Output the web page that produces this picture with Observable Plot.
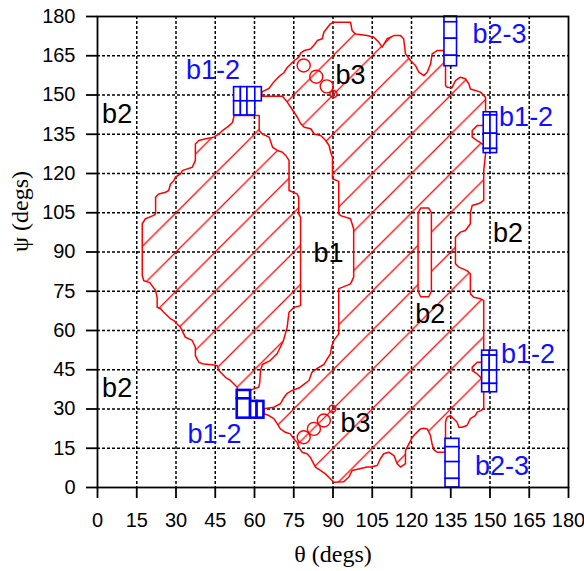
<!DOCTYPE html>
<html>
<head>
<meta charset="utf-8">
<script src="https://cdn.jsdelivr.net/npm/d3@7"></script>
<script src="https://cdn.jsdelivr.net/npm/@observablehq/plot@0.6"></script>
<style>
  html, body { margin: 0; padding: 0; background: white; }
</style>
</head>
<body>
<div id="chart"></div>
<script>
// ---- data (degrees) ----
const ticks = [0, 15, 30, 45, 60, 75, 90, 105, 120, 135, 150, 165, 180];

// left lobe outline [theta, psi]
const leftLobe = [
  [52.2,142.2],[61.8,142.2],[61.8,136.4],[63,135.1],[65.6,133.9],[66.9,130],[68.8,128.8],[70.7,128.1],
  [71.9,126.9],[73.2,125],[73.2,113.5],[76.3,112.2],[76.9,110.9],[76.9,104.6],[77.6,103.3],[77.6,69.5],
  [75,68.8],[73.2,67],[72.8,64],[72.5,61.3],[71,56],[68.7,51.2],[66,48.5],[63,47],[62.3,44.7],[62,40],
  [61.6,38.3],[59.7,37.7],[58.5,37.1],[53.4,37.1],[53.4,38.3],[50.8,40.9],[48.9,42.1],[46.4,44.7],
  [45.7,46.6],[44.4,46.8],[40,47.3],[38.7,47.9],[37.4,50.4],[37.4,53.6],[36.2,56.2],[33.6,57.4],
  [31.7,61.3],[30.4,62.5],[29.2,63.8],[27.9,64.5],[25.3,67],[24.1,68.3],[22.8,68.9],[22.8,72.5],
  [22.2,75.3],[20,78.3],[17.7,79],[17.1,81],[17.1,100.8],[18.3,102.7],[21.5,104],[22.2,104.6],
  [22.2,110.9],[23.4,112.2],[26,112.8],[27.2,113.5],[27.9,116],[29.2,117.3],[29.8,118.6],[31.7,119.9],
  [32.4,121.1],[36.2,122.4],[36.8,123.7],[37.4,125],[37.4,131.3],[38.7,132.6],[41,133.2],[44.4,133.9],
  [46.4,135.1],[48,136.6],[50,138],[51.6,139.5],[52.2,142.2]
];

// right (diagonal) region outline [theta, psi]
const rightRegion = [
  [62.8,151.2],[65.5,152.5],[67.4,155],[69.3,157],[71.2,158.5],[72.5,160.5],[73.5,161.5],[75,163],
  [77,164.5],[77.6,166],[79,167],[81.4,167.6],[82.7,169],[84,170.8],[85.9,171.5],[86.5,174],[89,177.2],
  [90.3,177.8],[96.7,177.8],[97.3,174.6],[98.6,173.3],[103,172.7],[105.6,172.1],[107.5,170.2],
  [108.8,168.3],[110.7,171.5],[113.3,172.7],[115.8,172.7],[117,171.5],[117.7,165.7],[119.6,163.2],
  [121.5,161.3],[122.8,158.7],[124.7,157.4],[126,158.7],[127.3,161.9],[127.9,165.7],[129.8,167],
  [132.3,167],[133,163.8],[133,153.6],[133.6,153],[135.5,152.8],[136.8,155.5],[138.7,156.8],
  [140.6,156.2],[141.9,154.3],[142.5,152.3],[144.4,151.7],[146.4,151.1],[147.6,149.8],[148.3,149.1],
  [148.3,138.6],[147,138.3],[145.1,138.3],[143.2,136.4],[143.2,133.9],[145.1,132.6],[147,131.3],
  [148.3,131],[148.3,127.5],[147.6,121],[147.6,109.7],[146,108.6],[143.2,107.8],[142.5,105],
  [142.5,100.8],[140.6,98.2],[138.7,97.6],[137.4,96.3],[136.8,95.6],[136.8,85.5],[138.1,84.2],
  [141.2,82.9],[142.5,81.7],[142.5,74],[143.8,72.7],[146.4,72.1],[147.6,71.5],[147.6,47.9],
  [147,47.9],[145.1,47.9],[143.2,46],[143.2,44.7],[145.1,43.4],[147,41.5],[147.6,41],[147.6,30.1],
  [146.4,29.4],[145.1,28.8],[144.4,27.5],[142.5,26.3],[141.2,23.7],[139.3,23],[138.1,23],[137.4,25],
  [136.1,26.3],[134.9,27.5],[133.6,26.9],[133,25],[133,13.5],[129.8,13.5],[128.5,14.5],[127.9,16.5],
  [127.2,20],[126,22.4],[124.7,22.6],[123.4,22.4],[121.5,20.5],[120.3,19.2],[119,16.7],[117.7,14.1],
  [117.7,9.1],[115.8,7.8],[114.5,9.1],[113.3,12.2],[111.3,13.5],[109.4,12.9],[108.1,11],[106.9,8.4],
  [104.3,7.8],[103,7.8],[97.3,6.5],[96,3.9],[94.1,2.2],[90.3,2],[88.4,3.9],[87.1,5.2],[85.2,6.5],
  [83.3,7.8],[82,10.3],[81.3,11.6],[80.1,12.9],[78.2,13.5],[76.9,15.4],[76.3,17.3],[75,18.6],
  [73.7,20.5],[71.8,21.1],[69.9,22.4],[68.7,24.3],[67.4,26.3],[65.5,27.5],[63.6,28.2],[63.6,30.1],
  [67.4,30.7],[69.9,32],[71,34],[72.5,36],[74.4,37.1],[77,38],[79,39.5],[80.8,40.9],[82,44.1],
  [84,45.5],[86.5,47],[87.8,49.2],[89,51],[89.5,54],[90.3,56.2],[92.2,58.7],[92.2,76],[93.5,76.5],
  [96.7,77.8],[97.9,80.4],[97.9,98.8],[96.7,102.7],[92.9,103.9],[92.2,104.6],[92.2,117],[89.8,118],
  [89.8,126.2],[89.1,128.1],[88.5,130.7],[87.2,132.6],[85.3,134.5],[82.8,135.1],[81.5,137.1],
  [79,137.7],[77.7,139],[76.4,141.5],[75.1,143.4],[72.6,147.2],[70.7,149.5],[62.8,149.5],[62.8,151.2]
];

// narrow slot (hole) inside the right region
const slot = [
  [122.5,105],[123.5,106.8],[126.6,106.8],[127.6,105],[127.6,75],[126.6,72.9],[123.5,72.9],[122.5,75],[122.5,105]
];

// small b3 loops (centres)
const loopsBig = [[78.8,161.3],[83.6,157],[87.6,153.3],[78.8,19.2],[82.7,22.4],[86.5,25.6]];
const loopsSmall = [[90.2,150.4],[89.8,30.1]];

// blue cell boxes: [theta1, theta2, psi1, psi2]
const boxUpperLeft = [
  [52.2,54.8,147.6,153],[54.8,57.3,147.6,153],[57.3,60.3,147.6,153],[60.3,62.8,147.6,153],
  [52.2,54.8,142.2,147.6],[54.8,57.3,142.2,147.6],[57.3,60.3,142.2,147.6]
];
const boxLowerLeft = [
  [53.4,58.5,33.9,37.1],[53.4,58.5,26.5,33.9],[58.5,61,26.5,32.9],[61,63.6,26.5,32.9]
];
const boxRightUpper = [
  [147.6,150.2,142.2,143.4],[150.2,152.7,142.2,143.4],[147.6,150.2,135.2,142.2],[150.2,152.7,135.2,142.2],
  [147.6,150.2,129.4,135.2],[150.2,152.7,129.4,135.2],[147.6,150.2,127.8,129.4],[150.2,152.7,127.8,129.4]
];
const boxRightLower = [
  [147,149.9,50.4,52.3],[149.9,152.7,50.4,52.3],[147,149.9,44.7,50.4],[149.9,152.7,44.7,50.4],
  [147,149.9,39.6,44.7],[149.9,152.7,39.6,44.7],[147,149.9,36.4,39.6],[149.9,152.7,36.4,39.6]
];
const boxTop = [
  [132.6,137.4,177.8,180],[132.6,137.4,171.5,177.8],[132.6,137.4,165,171.5],[132.6,137.4,161,165]
];
const boxBottom = [
  [133,138.3,15.4,18.6],[133,138.3,9.7,15.4],[133,138.3,3.3,9.7],[133,138.3,0,3.3]
];

const labelText  = ["b1-2","b2","b3","b2-3","b1-2","b2","b1","b2","b1-2","b2","b1-2","b3","b2-3"];
const labelTheta = [44.1, 7.5, 96.7, 153.6, 163.8, 156.9, 88.3, 127.2, 164.5, 7.5, 44.7, 98.6, 154.6];
const labelPsi   = [159.3, 142.5, 157.4, 173, 141.5, 97.3, 89.6, 66.1, 50.8, 38, 20.3, 24.5, 8];
const labelBlue  = [true, false, false, true, true, false, false, false, true, false, true, false, true];

const xLabel = "θ (degs)";
const yLabel = "ψ (degs)";

// ---- build tables ----
const outline = [];
for (const ring of [leftLobe, rightRegion, slot]) {
  for (const [t, p] of ring) outline.push({t, p});
  outline.push({t: null, p: null});
}
const toCells = (arr) => arr.map(([x1, x2, y1, y2]) => ({x1, x2, y1, y2}));
const normalCells = toCells([...boxUpperLeft, ...boxRightUpper, ...boxRightLower, ...boxTop, ...boxBottom]);
const boldCells = toCells(boxLowerLeft);
const labels = labelText.map((s, i) => ({s, t: labelTheta[i], p: labelPsi[i], c: labelBlue[i] ? "#1010ff" : "black"}));
const toPt = ([t, p]) => ({t, p});

const plot = Plot.plot({
  width: 584,
  height: 571,
  marginLeft: 97,
  marginRight: 16,
  marginTop: 16,
  marginBottom: 84,
  style: {fontFamily: "'Liberation Sans', Arial, sans-serif", fontSize: "20px", background: "white", color: "black", overflow: "visible"},
  x: {domain: [0, 180], ticks: ticks, tickSize: 11, tickPadding: 14, label: null},
  y: {domain: [0, 180], ticks: ticks, tickSize: 11, tickPadding: 11, label: null},
  marks: [
    Plot.ruleX(ticks.slice(1, -1), {stroke: "black", strokeWidth: 1.5, strokeDasharray: "3,2"}),
    Plot.ruleY(ticks.slice(1, -1), {stroke: "black", strokeWidth: 1.5, strokeDasharray: "3,2"}),
    Plot.line(outline, {x: "t", y: "p", stroke: "#ff0000", strokeWidth: 1.5}),
    Plot.dot(loopsBig.map(toPt), {x: "t", y: "p", r: 6.5, stroke: "#ff0000", strokeWidth: 1.4, fill: "none"}),
    Plot.dot(loopsSmall.map(toPt), {x: "t", y: "p", r: 3.5, stroke: "#ff0000", strokeWidth: 1.4, fill: "none"}),
    Plot.rect(normalCells, {x1: "x1", x2: "x2", y1: "y1", y2: "y2", fill: "white", stroke: "#0000ff", strokeWidth: 1.6}),
    Plot.rect(boldCells, {x1: "x1", x2: "x2", y1: "y1", y2: "y2", fill: "white", stroke: "#0000ff", strokeWidth: 2.6}),
    Plot.text(labels, {x: "t", y: "p", text: "s", fill: "c", fontSize: 27, textAnchor: "middle", lineAnchor: "middle", fontFamily: "'Liberation Sans', Arial, sans-serif"}),
    Plot.text([xLabel], {frameAnchor: "bottom", dy: 67, fontSize: 24, fontFamily: "'Liberation Serif', 'Times New Roman', serif", fill: "black", lineAnchor: "middle"}),
    Plot.text([yLabel], {frameAnchor: "left", dx: -77, rotate: -90, fontSize: 24, fontFamily: "'Liberation Serif', 'Times New Roman', serif", fill: "black", lineAnchor: "middle"}),
    Plot.frame({stroke: "black", strokeWidth: 1.8})
  ]
});

// hatch pattern aligned with the 15° grid (lines of constant psi - theta)
const xs = plot.scale("x"), ys = plot.scale("y");
const x0 = xs.apply(0), y0 = ys.apply(180);
const w = xs.apply(15) - xs.apply(0);
const defs = d3.select(plot).insert("defs", ":first-child");
const pat = defs.append("pattern")
  .attr("id", "hatch")
  .attr("patternUnits", "userSpaceOnUse")
  .attr("x", x0).attr("y", y0)
  .attr("width", w).attr("height", w);
const e = w * 0.15;
pat.append("path")
  .attr("d", `M0,${w}L${w},0M${-e},${e}L${e},${-e}M${w - e},${w + e}L${w + e},${w - e}`)
  .attr("stroke", "#ff0000").attr("stroke-width", 1.25).attr("fill", "none");
d3.select(plot).selectAll('g[aria-label="line"] path')
  .attr("fill", "url(#hatch)").attr("fill-rule", "evenodd");
d3.select(plot).selectAll('g[aria-label="x-axis tick"] path, g[aria-label="y-axis tick"] path, g[aria-label="x-axis"] .tick line, g[aria-label="y-axis"] .tick line')
  .attr("stroke-width", 1.8);

document.getElementById("chart").appendChild(plot);
</script>
</body>
</html>
